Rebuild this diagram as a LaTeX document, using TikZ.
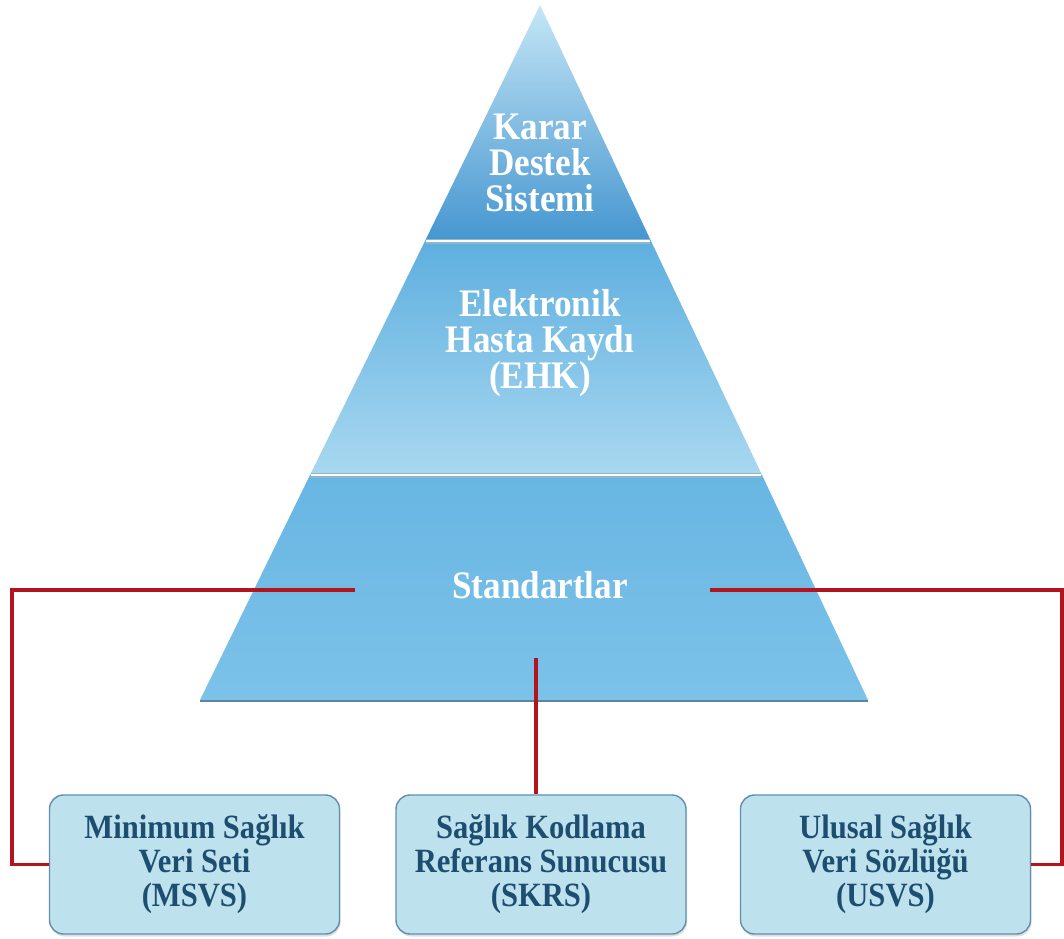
\documentclass[tikz,border=0pt]{standalone}
\usepackage{fontspec}
\setmainfont{Liberation Serif}[FakeStretch=0.9]
\usetikzlibrary{shadows}

\definecolor{apexblue}{HTML}{C4E6F6}
\definecolor{topblue}{HTML}{4596D0}
\definecolor{midtop}{HTML}{5EAFDF}
\definecolor{midmid}{HTML}{9CCFEC}
\definecolor{midbot}{HTML}{A9D8F0}
\definecolor{basetop}{HTML}{68B6E3}
\definecolor{basemid}{HTML}{45A7E0}
\definecolor{basebot}{HTML}{7CC2E9}
\definecolor{edgeblue}{HTML}{8FB6CE}
\definecolor{baseshadow}{HTML}{5A86A4}
\definecolor{linkred}{HTML}{B3151F}
\definecolor{boxfill}{HTML}{BEE1EE}
\definecolor{boxedge}{HTML}{5F8FAE}
\definecolor{boxtext}{HTML}{1D4E70}

\begin{document}
\begin{tikzpicture}[x=1pt,y=-1pt,
  tiertext/.style={text=white, align=center, font=\bfseries\fontsize{39}{36}\selectfont},
  infobox/.style={draw=boxedge, line width=1.4pt, fill=boxfill, rounded corners=14pt,
    minimum width=290pt, minimum height=139pt, align=center, text=boxtext,
    font=\bfseries\fontsize{34}{34}\selectfont,
    drop shadow={opacity=0.25, shadow xshift=1pt, shadow yshift=-2.5pt}},
  link/.style={draw=linkred, line width=3.6pt},
  divider/.style={draw=edgeblue, line width=5pt},
  dividerin/.style={draw=white, line width=2.6pt}]
\useasboundingbox (0,0) rectangle (1064,938);

% pyramid tiers
\shade[top color=apexblue, bottom color=topblue]
  (540,5) -- (425,241) -- (651,241) -- cycle;
\shade[top color=midtop, middle color=midmid, bottom color=midbot]
  (425,241) -- (310,475) -- (762,475) -- (651,241) -- cycle;
\shade[top color=basetop, middle color=basemid, bottom color=basebot]
  (310,475) -- (200,700) -- (868,700) -- (762,475) -- cycle;

% tier dividers and base edge
\draw[divider] (426,241) -- (650,241);
\draw[dividerin] (426,241) -- (650,241);
\draw[divider] (311,475) -- (761,475);
\draw[dividerin] (311,475) -- (761,475);
\draw[baseshadow, line width=2.5pt] (200,701) -- (868,701);

% tier labels
\node[tiertext] (kds) at (540,163) {Karar\\Destek\\Sistemi};
\node[tiertext] (ehk) at (540,343) {Elektronik\\Hasta Kaydı\\(EHK)};
\node[tiertext] (std) at (540,585) {Standartlar};

% component boxes
\node[infobox] (msvs) at (194.5,864.5) {Minimum Sağlık\\Veri Seti\\(MSVS)};
\node[infobox] (skrs) at (541,864.5) {Sağlık Kodlama\\Referans Sunucusu\\(SKRS)};
\node[infobox] (usvs) at (885.5,864.5) {Ulusal Sağlık\\Veri Sözlüğü\\(USVS)};

% connector anchors
\coordinate (stdL) at (355,590);
\coordinate (stdR) at (710,590);
\coordinate (stdB) at (536,658);
\coordinate (cornerL) at (12,590);
\coordinate (cornerR) at (1062,590);

% connectors
\draw[link] (stdL) -- (cornerL) |- (msvs.west);
\draw[link] (stdR) -- (cornerR) |- (usvs.east);
\draw[link] (stdB) -- (stdB |- skrs.north);
\end{tikzpicture}
\end{document}
